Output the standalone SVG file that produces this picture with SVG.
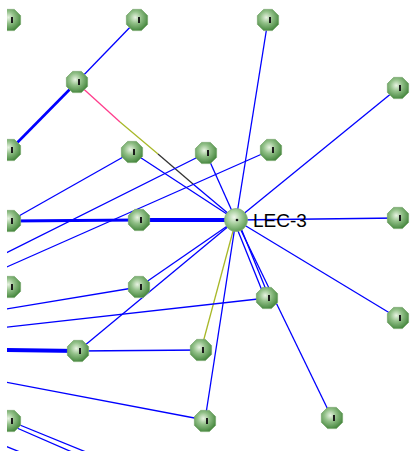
<svg xmlns="http://www.w3.org/2000/svg" xmlns:xlink="http://www.w3.org/1999/xlink" width="410" height="451" viewBox="0 0 410 451">
<style>
.e{fill:none;stroke:#0000ff;stroke-width:1.3}
.t2{stroke-width:2.6}
.t3{stroke-width:3.2}
.t4{stroke-width:4}
.ol{stroke:#a8b828}
.pk{stroke:#ff3c8c}
.bk{stroke:#333333}
.bar{fill:#1a1a1a}
.lbl{font-family:"Liberation Sans",Arial,sans-serif;font-size:19px;fill:#000}
</style>
<defs>
<radialGradient id="g" cx="42%" cy="38%" r="62%">
<stop offset="0" stop-color="#e8f3e2"/>
<stop offset="0.45" stop-color="#92c088"/>
<stop offset="1" stop-color="#4a8a42"/>
</radialGradient>
<radialGradient id="gh" cx="42%" cy="38%" r="62%">
<stop offset="0" stop-color="#f0f7ec"/>
<stop offset="0.5" stop-color="#a2cc98"/>
<stop offset="1" stop-color="#5f9c56"/>
</radialGradient>
<polygon id="oct" points="10.6,4.4 4.4,10.6 -4.4,10.6 -10.6,4.4 -10.6,-4.4 -4.4,-10.6 4.4,-10.6 10.6,-4.4" fill="url(#g)" stroke="#7aa870" stroke-width="0.8"/>
<clipPath id="clip"><rect x="7" y="0" width="403" height="451"/></clipPath>
</defs>
<rect width="410" height="451" fill="#fff"/>
<g clip-path="url(#clip)">
<g id="connectors">
<line class="e" x1="77" y1="82" x2="137" y2="20"/>
<line class="e t2" x1="77" y1="82" x2="10" y2="150"/>
<line class="e pk" x1="77" y1="83" x2="120" y2="122"/>
<line class="e ol" x1="120" y1="122" x2="158" y2="154"/>
<line class="e bk" x1="158" y1="154" x2="193" y2="184"/>
<line class="e" x1="193" y1="184" x2="236" y2="220"/>
<line class="e" x1="132" y1="152" x2="236" y2="220"/>
<line class="e" x1="206" y1="153" x2="236" y2="220"/>
<line class="e" x1="268" y1="20" x2="236" y2="220"/>
<line class="e" x1="398" y1="88" x2="236" y2="220"/>
<line class="e" x1="398" y1="218" x2="236" y2="220"/>
<line class="e" x1="398" y1="318" x2="236" y2="220"/>
<line class="e" x1="234" y1="221" x2="265" y2="298"/>
<line class="e" x1="238" y1="221" x2="269" y2="297"/>
<line class="e" x1="236" y1="220" x2="332" y2="418"/>
<line class="e ol" x1="201" y1="350" x2="236" y2="220"/>
<line class="e" x1="205" y1="420" x2="236" y2="220"/>
<line class="e" x1="139" y1="287" x2="236" y2="220"/>
<line class="e" x1="78" y1="351" x2="236" y2="220"/>
<line class="e" x1="10" y1="221" x2="132" y2="152"/>
<line class="e t3" x1="10" y1="221" x2="139" y2="220"/>
<line class="e t4" x1="139" y1="220" x2="236" y2="220"/>
<line class="e" x1="0" y1="256" x2="206" y2="153"/>
<line class="e" x1="0" y1="270" x2="271" y2="150"/>
<line class="e" x1="0" y1="310" x2="139" y2="287"/>
<line class="e" x1="0" y1="328" x2="267" y2="298"/>
<line class="e t4" x1="0" y1="350" x2="78" y2="351"/>
<line class="e" x1="78" y1="351" x2="201" y2="350"/>
<line class="e" x1="0" y1="381" x2="205" y2="420"/>
<line class="e" x1="10" y1="421" x2="86" y2="452"/>
<line class="e" x1="10" y1="425" x2="72" y2="452"/>
<line class="e" x1="0" y1="444" x2="20" y2="452"/>
</g>
<g id="nA"><use xlink:href="#oct" x="10" y="20"/><rect class="bar" x="11" y="17" width="2" height="6"/></g>
<g id="nB"><use xlink:href="#oct" x="137" y="20"/><rect class="bar" x="138" y="17" width="2" height="6"/></g>
<g id="nC"><use xlink:href="#oct" x="268" y="20"/><rect class="bar" x="269" y="17" width="2" height="6"/></g>
<g id="nD"><use xlink:href="#oct" x="77" y="82"/><rect class="bar" x="78" y="79" width="2" height="6"/></g>
<g id="nE"><use xlink:href="#oct" x="398" y="88"/><rect class="bar" x="399" y="85" width="2" height="6"/></g>
<g id="nF"><use xlink:href="#oct" x="10" y="150"/><rect class="bar" x="11" y="147" width="2" height="6"/></g>
<g id="nG"><use xlink:href="#oct" x="132" y="152"/><rect class="bar" x="133" y="149" width="2" height="6"/></g>
<g id="nH"><use xlink:href="#oct" x="206" y="153"/><rect class="bar" x="207" y="150" width="2" height="6"/></g>
<g id="nI"><use xlink:href="#oct" x="271" y="150"/><rect class="bar" x="272" y="147" width="2" height="6"/></g>
<g id="nJ"><use xlink:href="#oct" x="10" y="221"/><rect class="bar" x="11" y="218" width="2" height="6"/></g>
<g id="nK"><use xlink:href="#oct" x="139" y="220"/><rect class="bar" x="140" y="217" width="2" height="6"/></g>
<g id="nL"><use xlink:href="#oct" x="398" y="218"/><rect class="bar" x="399" y="215" width="2" height="6"/></g>
<g id="nM"><use xlink:href="#oct" x="10" y="287"/><rect class="bar" x="11" y="284" width="2" height="6"/></g>
<g id="nN"><use xlink:href="#oct" x="139" y="287"/><rect class="bar" x="140" y="284" width="2" height="6"/></g>
<g id="nO"><use xlink:href="#oct" x="267" y="298"/><rect class="bar" x="268" y="295" width="2" height="6"/></g>
<g id="nP"><use xlink:href="#oct" x="398" y="318"/><rect class="bar" x="399" y="315" width="2" height="6"/></g>
<g id="nQ"><use xlink:href="#oct" x="78" y="351"/><rect class="bar" x="79" y="348" width="2" height="6"/></g>
<g id="nR"><use xlink:href="#oct" x="201" y="350"/><rect class="bar" x="202" y="347" width="2" height="6"/></g>
<g id="nS"><use xlink:href="#oct" x="10" y="421"/><rect class="bar" x="11" y="418" width="2" height="6"/></g>
<g id="nT"><use xlink:href="#oct" x="205" y="421"/><rect class="bar" x="206" y="418" width="2" height="6"/></g>
<g id="nU"><use xlink:href="#oct" x="332" y="418"/><rect class="bar" x="333" y="415" width="2" height="6"/></g>
<g id="nLEC3"><circle cx="236" cy="220" r="11.5" fill="url(#gh)" stroke="#86b07c" stroke-width="0.8"/><circle cx="237" cy="220" r="1.3" fill="#111"/><text class="lbl" x="253" y="227">LEC-3</text></g>
</g>
</svg>
